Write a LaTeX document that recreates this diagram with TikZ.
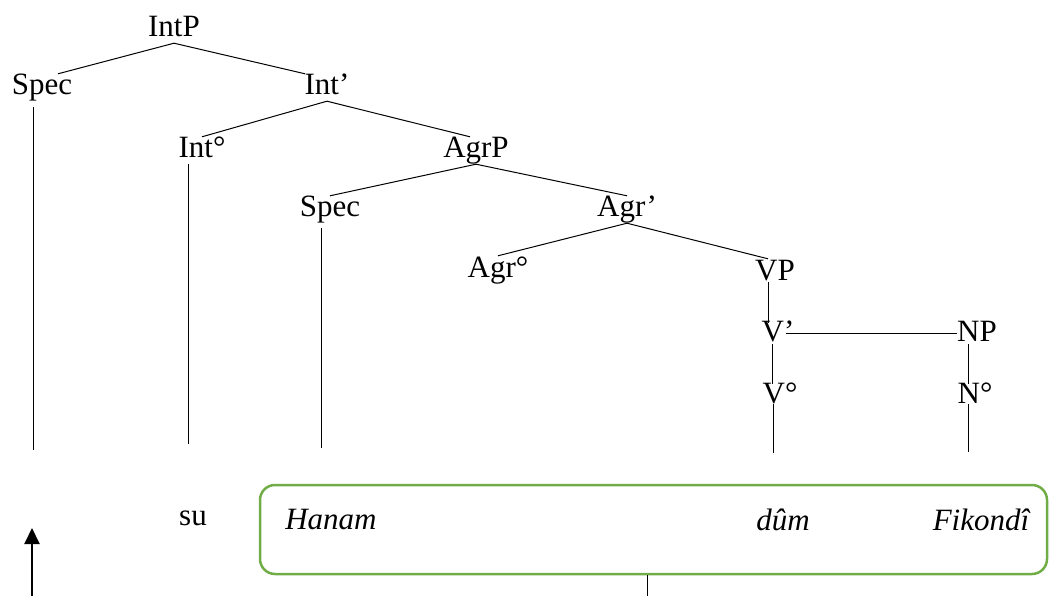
\documentclass[tikz,border=0pt]{standalone}
\usepackage{fontspec}
\setmainfont{Liberation Serif}
\usetikzlibrary{arrows.meta}
\definecolor{boxgreen}{RGB}{112,173,71}
\begin{document}
\begin{tikzpicture}[x=1pt,y=-1pt,
  lab/.style={anchor=base,inner sep=0pt,text height=21pt,text depth=6pt,font=\fontsize{31}{36}\selectfont},
  it/.style={lab,font=\fontsize{31}{36}\selectfont\itshape},
  br/.style={line width=1pt,black},
  greenbox/.style={draw=boxgreen,line width=2.5pt,rounded corners=15pt,minimum width=787pt,minimum height=89pt,inner sep=0pt}]
\useasboundingbox (0,0) rectangle (1049,596);
% tree labels
\node[lab] (IntP) at (174,37) {IntP};
\node[lab] (SpecA) at (42,95) {Spec};
\node[lab] (IntB) at (327,95) {Int’};
\node[lab] (IntH) at (202,158) {Int°};
\node[lab] (AgrP) at (476,158) {AgrP};
\node[lab] (SpecB) at (330,217) {Spec};
\node[lab] (AgrB) at (627,217) {Agr’};
\node[lab] (AgrH) at (498,277) {Agr°};
\node[lab] (VP) at (775,280) {VP};
\node[lab] (VB) at (778,341) {V’};
\node[lab] (NP) at (977,341) {NP};
\node[lab] (VH) at (780,403) {V°};
\node[lab] (NH) at (975,403) {N°};
% free ends
\coordinate (eSpecA) at (33,450);
\coordinate (eIntH) at (188,444);
\coordinate (eSpecB) at (321,448);
\coordinate (eVH) at (773,453);
\coordinate (eNH) at (968,452);
% branches
\draw[br] (IntP.south) -- ([xshift=16pt]SpecA.north);
\draw[br] (IntP.south) -- ([xshift=-22pt]IntB.north);
\draw[br] (IntB.south) -- (IntH.north);
\draw[br] (IntB.south) -- ([xshift=-6pt]AgrP.north);
\draw[br] (AgrP.south) -- (SpecB.north);
\draw[br] (AgrP.south) -- (AgrB.north);
\draw[br] (AgrB.south) -- (AgrH.north);
\draw[br] (AgrB.south) -- ([xshift=-7pt]VP.north);
\draw[br] ([xshift=-7pt,yshift=4pt]VP.south) -- ([xshift=-10pt,yshift=-3pt]VB.north);
\draw[br] ([xshift=8pt]VB.center) -- (NP.west |- VB.center);
\draw[br] ([xshift=-6pt,yshift=3pt]VB.south) -- ([xshift=-8pt,yshift=-2pt]VH.north);
\draw[br] ([xshift=-9pt,yshift=3pt]NP.south) -- ([xshift=-7pt,yshift=-2pt]NH.north);
\draw[br] ([yshift=-6pt]eSpecA |- SpecA.south) -- (eSpecA);
\draw[br] (eIntH |- IntH.south) -- (eIntH);
\draw[br] ([yshift=-5pt]eSpecB |- SpecB.south) -- (eSpecB);
\draw[br] ([yshift=5pt]eVH |- VH.south) -- (eVH);
\draw[br] ([yshift=5pt]eNH |- NH.south) -- (eNH);
% bottom
\node[lab] (su) at (193,525) {su};
\node[greenbox] (box) at (653.5,529.5) {};
\node[it] (Hanam) at (331,529) {Hanam};
\node[it] (dum) at (783,530) {dûm};
\node[it] (Fik) at (981,530) {Fikondî};
\coordinate (boxfoot) at (647,596);
\draw[br] (boxfoot |- box.south) -- (boxfoot);
\coordinate (arrbase) at (32,596);
\coordinate (arrtip) at (32,528);
\draw[line width=2pt,-{Triangle[length=16pt,width=15pt]}] (arrbase) -- (arrtip);
\end{tikzpicture}
\end{document}
